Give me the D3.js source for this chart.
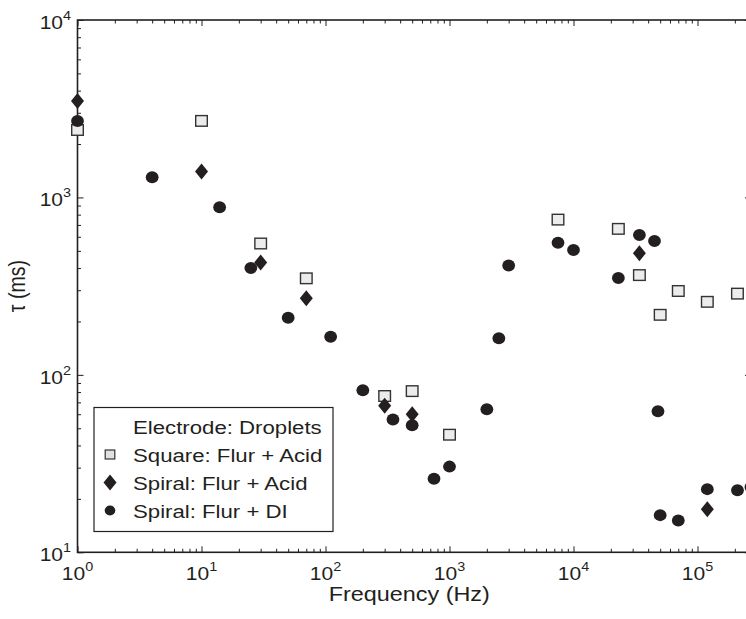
<!DOCTYPE html>
<head>
  <meta charset="utf-8">
  <script src="https://d3js.org/d3.v7.min.js"></script>
  <style>
    body { margin:0; background:#fff; font-family: "Liberation Sans", Arial, sans-serif; }
    svg { display:block; }
  </style>
</head>
<body>
  <script>
    // square electrode, fluorinert + acid
    var squareFreq = [1, 10, 30, 70, 300, 500, 1000, 7500, 23000, 34000, 50000, 70000, 120000, 210000];
    var squareTau  = [2400, 2700, 550, 350, 76, 81, 46, 750, 665, 365, 218, 297, 258, 287];

    // spiral electrode, fluorinert + acid
    var spiralAcidFreq = [1, 10, 30, 70, 300, 500, 34000, 120000];
    var spiralAcidTau  = [3500, 1400, 430, 270, 67, 60, 485, 17.5];

    // spiral electrode, fluorinert + DI
    var spiralDIFreq = [1, 4, 14, 25, 50, 110, 200, 350, 500, 750, 1000, 2000, 2500, 3000, 7500, 10000,
                        23000, 34000, 45000, 48000, 50000, 70000, 120000, 210000, 270000];
    var spiralDITau  = [2700, 1300, 880, 400, 210, 164, 82, 56, 52, 26, 30.4, 64, 161, 413, 556, 506,
                        351, 615, 569, 62.4, 16.2, 15.1, 22.7, 22.4, 23.3];

    var xDecades = [0, 1, 2, 3, 4, 5];
    var yDecades = [1, 2, 3, 4];
    var legendLabels = ["Electrode: Droplets", "Square: Flur + Acid", "Spiral: Flur + Acid", "Spiral: Flur + DI"];

    var W = 746, H = 619;
    var ink = "#231f20";
    var sx = 1.2; // the figure is a little wider than tall in its text

    var svg = d3.select("body").append("svg")
      .attr("width", W)
      .attr("height", H);

    var x = d3.scaleLog().domain([1, 1e5]).range([77.5, 697.5]);
    var y = d3.scaleLog().domain([10, 1e4]).range([552.3, 20]);
    var xMax = 2.7e5;

    var pLeft = x(1), pRight = x(xMax), pTop = y(1e4), pBottom = y(10);

    function minors(decades, last) {
      var out = [];
      decades.forEach(function(k) {
        for (var m = 2; m <= 9; m++) {
          var v = m * Math.pow(10, k);
          if (v < last) out.push(v);
        }
      });
      return out;
    }
    var xMajor = xDecades.map(function(k) { return Math.pow(10, k); });
    var xMinor = minors(xDecades, xMax);
    var yMajor = yDecades.map(function(k) { return Math.pow(10, k); });
    var yMinor = minors([1, 2, 3], 1e4);

    function styleAxis(g) {
      g.select('.domain').remove();
      g.selectAll('line').attr('stroke', ink).attr('stroke-width', 1);
    }

    // inward ticks on all four sides
    [[xMajor, 6], [xMinor, 3.5]].forEach(function(t) {
      svg.append('g').attr('transform', 'translate(0,' + pBottom + ')')
        .call(d3.axisBottom(x).tickValues(t[0]).tickSize(-t[1]).tickFormat(''))
        .call(styleAxis);
      svg.append('g').attr('transform', 'translate(0,' + pTop + ')')
        .call(d3.axisTop(x).tickValues(t[0]).tickSize(-t[1]).tickFormat(''))
        .call(styleAxis);
    });
    [[yMajor, 6], [yMinor, 3.5]].forEach(function(t) {
      svg.append('g').attr('transform', 'translate(' + pLeft + ',0)')
        .call(d3.axisLeft(y).tickValues(t[0]).tickSize(-t[1]).tickFormat(''))
        .call(styleAxis);
      svg.append('g').attr('transform', 'translate(' + pRight + ',0)')
        .call(d3.axisRight(y).tickValues(t[0]).tickSize(-t[1]).tickFormat(''))
        .call(styleAxis);
    });

    svg.append('rect')
      .attr('x', pLeft).attr('y', pTop)
      .attr('width', pRight - pLeft).attr('height', pBottom - pTop)
      .attr('fill', 'none').attr('stroke', ink).attr('stroke-width', 1.6);

    function powerLabel(px, py, exp, anchor) {
      var t = svg.append('text')
        .attr('transform', 'translate(' + px + ',' + py + ') scale(' + sx + ',1)')
        .attr('text-anchor', anchor)
        .attr('fill', ink);
      t.append('tspan').text('10').style('font-size', '17.5px');
      t.append('tspan').text(exp).style('font-size', '12px').attr('dy', -9);
    }

    xDecades.forEach(function(k) { powerLabel(x(Math.pow(10, k)), pBottom + 27.5, k, 'middle'); });
    yDecades.forEach(function(k) { powerLabel(pLeft - 6.5, y(Math.pow(10, k)) + 9, k, 'end'); });

    svg.append('text')
      .text('Frequency (Hz)')
      .attr('transform', 'translate(' + ((pLeft + pRight) / 2 - 5) + ',' + (pBottom + 48.5) + ') scale(' + sx + ',1)')
      .attr('text-anchor', 'middle')
      .style('font-size', '19.5px')
      .attr('fill', ink);

    svg.append('text')
      .text('τ (ms)')
      .attr('transform', 'translate(25,' + ((pTop + pBottom) / 2) + ') scale(' + sx + ',1) rotate(-90)')
      .attr('text-anchor', 'middle')
      .style('font-size', '19.5px')
      .attr('fill', ink);

    // markers
    function square(g) {
      g.append('rect').attr('x', -5.8).attr('y', -5.3).attr('width', 11.6).attr('height', 10.6)
        .attr('fill', '#ececec').attr('stroke', '#333').attr('stroke-width', 1.4);
    }
    function diamond(g) {
      g.append('path').attr('d', 'M0,-8L6.5,0L0,8L-6.5,0Z').attr('fill', ink);
    }
    function circle(g) {
      g.append('ellipse').attr('rx', 6.4).attr('ry', 6).attr('fill', ink);
    }

    function plotSeries(freq, tau, draw) {
      svg.append('g').selectAll('g')
        .data(freq.map(function(f, i) { return [f, tau[i]]; }))
        .enter().append('g')
        .attr('transform', function(d) { return 'translate(' + x(d[0]) + ',' + y(d[1]) + ')'; })
        .each(function() { draw(d3.select(this)); });
    }
    plotSeries(squareFreq, squareTau, square);
    plotSeries(spiralAcidFreq, spiralAcidTau, diamond);
    plotSeries(spiralDIFreq, spiralDITau, circle);

    // legend
    var legend = svg.append('g').attr('transform', 'translate(94,407.5)');
    legend.append('rect')
      .attr('width', 239).attr('height', 124)
      .attr('fill', '#fff').attr('stroke', ink).attr('stroke-width', 1.2);

    var rows = legend.selectAll('.legend-item')
      .data(legendLabels)
      .enter().append('g')
      .attr('class', 'legend-item')
      .attr('transform', function(d, i) { return 'translate(0,' + (19 + i * 28) + ')'; });

    rows.append('text')
      .text(function(d) { return d; })
      .attr('transform', 'translate(39,7) scale(' + sx + ',1)')
      .style('font-size', '18.5px')
      .attr('fill', ink);

    var legendMarks = [null, function(g) {
        g.append('rect').attr('x', -4.8).attr('y', -4.5).attr('width', 9.6).attr('height', 9)
          .attr('fill', '#e0e0e0').attr('stroke', '#333').attr('stroke-width', 1.2);
      }, diamond, function(g) {
        g.append('ellipse').attr('rx', 5.3).attr('ry', 5).attr('fill', ink);
      }];
    rows.each(function(d, i) {
      if (legendMarks[i]) {
        legendMarks[i](d3.select(this).append('g').attr('transform', 'translate(16,0)'));
      }
    });
  </script>
</body>
